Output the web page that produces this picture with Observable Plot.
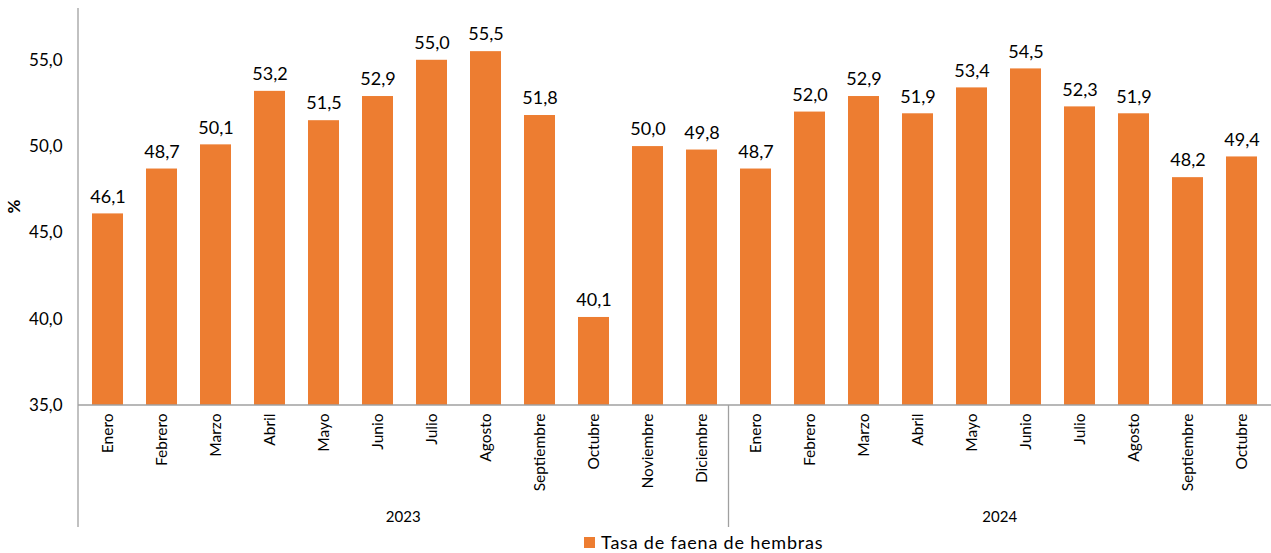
<!DOCTYPE html>
<html><head><meta charset="utf-8">
<script src="https://cdn.jsdelivr.net/npm/d3@7"></script>
<script src="https://cdn.jsdelivr.net/npm/@observablehq/plot@0.6"></script>
<style>
body{margin:0;background:#fff;font-family:Lato,"Noto Sans",sans-serif;}
#wrap{position:relative;width:1271px;height:553px;}
#legend{position:absolute;left:584px;top:531px;font-size:18px;letter-spacing:0.8px;color:#000;display:flex;align-items:center;white-space:nowrap;}
#legend span.sw{display:inline-block;width:11px;height:11px;background:#ED7D31;margin-right:6px;}
</style>
</head><body><div id="wrap"><div id="chart"></div><div id="legend"><span class="sw"></span>Tasa de faena de hembras</div></div>
<script>
const years = ["2023", "2024"];
const months2023 = ["Enero","Febrero","Marzo","Abril","Mayo","Junio","Julio","Agosto","Septiembre","Octubre","Noviembre","Diciembre"];
const values2023 = [46.1, 48.7, 50.1, 53.2, 51.5, 52.9, 55.0, 55.5, 51.8, 40.1, 50.0, 49.8];
const months2024 = ["Enero","Febrero","Marzo","Abril","Mayo","Junio","Julio","Agosto","Septiembre","Octubre"];
const values2024 = [48.7, 52.0, 52.9, 51.9, 53.4, 54.5, 52.3, 51.9, 48.2, 49.4];
const yTicks = [35, 40, 45, 50, 55];
const yDomain = [35, 58];

const data = [
  ...months2023.map((m, i) => ({key: years[0] + "|" + m, year: years[0], month: m, value: values2023[i]})),
  ...months2024.map((m, i) => ({key: years[1] + "|" + m, year: years[1], month: m, value: values2024[i]}))
];
const fmt = v => v.toFixed(1).replace(".", ",");
const font = "Lato, 'Noto Sans', sans-serif";

const chart = Plot.plot({
  width: 1271, height: 530,
  marginLeft: 78, marginRight: 0, marginTop: 8, marginBottom: 125,
  style: {fontFamily: font, background: "white", color: "#000", overflow: "visible"},
  x: {domain: data.map(d => d.key), paddingInner: 0.43, paddingOuter: 0.215, axis: null},
  y: {domain: yDomain, axis: null},
  marks: [
    Plot.barY(data, {x: "key", y1: yDomain[0], y2: "value", fill: "#ED7D31"}),
    Plot.text(data, {x: "key", y: "value", text: d => fmt(d.value), dy: -17, fontSize: 18, fill: "#000"}),
    Plot.axisY({ticks: yTicks, tickFormat: fmt, tickSize: 0, tickPadding: 16, fontSize: 17, label: null}),
    Plot.axisX({tickFormat: k => k.split("|")[1], tickRotate: -90, tickSize: 0, tickPadding: 8, fontSize: 15.5, label: null})
  ]
});
document.getElementById("chart").appendChild(chart);

// structural lines and group labels using the plot's own scales
const xs = chart.scale("x"), ys = chart.scale("y");
const svg = d3.select(chart);
const step = xs.step, bw = xs.bandwidth;
const x0 = 78, x1 = 1271;
const yBase = ys.apply(yDomain[0]);
const yTop = ys.apply(yDomain[1]);
const yBottom = 527;
const g = svg.append("g").attr("stroke", "#a0a0a0").attr("stroke-width", 1.3);
g.append("line").attr("x1", x0).attr("x2", x1).attr("y1", yBase).attr("y2", yBase);
g.append("line").attr("x1", x0).attr("x2", x0).attr("y1", yTop).attr("y2", yBottom);
const firstKey2024 = data.find(d => d.year === years[1]).key;
const xb = xs.apply(firstKey2024) - (step - bw) / 2;
g.append("line").attr("x1", xb).attr("x2", xb).attr("y1", yBase).attr("y2", yBottom);
const bounds = [[x0, xb], [xb, x1]];
years.forEach((yr, i) => {
  svg.append("text").attr("x", (bounds[i][0] + bounds[i][1]) / 2).attr("y", 518)
    .attr("text-anchor", "middle").attr("dominant-baseline", "middle")
    .attr("font-size", 15).attr("font-family", font).attr("fill", "#000").text(yr);
});
svg.append("text").attr("transform", `translate(16,${(yBase + yTop) / 2}) rotate(-90)`)
  .attr("text-anchor", "middle").attr("dominant-baseline", "middle")
  .attr("font-size", 17).attr("font-weight", "bold").attr("font-family", font).attr("fill", "#000").text("%");
</script>
</body></html>
